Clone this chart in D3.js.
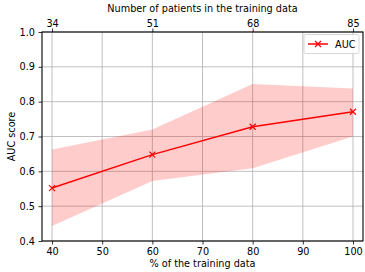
<!DOCTYPE html>
<html><head><meta charset="utf-8">
<script src="https://cdn.jsdelivr.net/npm/d3@7"></script>
<style>body{margin:0;background:#fff}svg{display:block}text{font-family:"DejaVu Sans",sans-serif;fill:#000}</style>
</head><body><svg id="c" width="365" height="272"></svg>
<script>
const pct = [40, 60, 80, 100];
const auc = [0.552, 0.648, 0.728, 0.771];
const lower = [0.443, 0.572, 0.609, 0.700];
const upper = [0.663, 0.720, 0.851, 0.838];
const xTicks = [40, 50, 60, 70, 80, 90, 100];
const yTicks = [0.4, 0.5, 0.6, 0.7, 0.8, 0.9, 1.0];
const patients = ["34", "51", "68", "85"];
const seriesName = "AUC";

const svg = d3.select("#c");
const L = 42, R = 363, T = 32, B = 241;
const x = d3.scaleLinear().domain([38, 102]).range([L, R]);
const y = d3.scaleLinear().domain([0.4, 1.0]).range([B, T]);
const fs = 9.7;

// grid
const g = svg.append("g");
g.selectAll(".gx").data(xTicks).join("line")
  .attr("x1", d => x(d)).attr("x2", d => x(d)).attr("y1", T).attr("y2", B)
  .attr("stroke", "#b0b0b0").attr("stroke-width", 0.8);
g.selectAll(".gy").data(yTicks).join("line")
  .attr("x1", L).attr("x2", R).attr("y1", d => y(d)).attr("y2", d => y(d))
  .attr("stroke", "#b0b0b0").attr("stroke-width", 0.8);

// band
const data = pct.map((p, i) => ({p, a: auc[i], lo: lower[i], hi: upper[i]}));
svg.append("path").datum(data)
  .attr("d", d3.area().x(d => x(d.p)).y0(d => y(d.lo)).y1(d => y(d.hi)))
  .attr("fill", "#ff0000").attr("fill-opacity", 0.2);

// line
svg.append("path").datum(data)
  .attr("d", d3.line().x(d => x(d.p)).y(d => y(d.a)))
  .attr("fill", "none").attr("stroke", "#ff0000").attr("stroke-width", 1.5);
const ms = 3;
svg.selectAll(".mk").data(data).join("path")
  .attr("d", d => `M${x(d.p)-ms},${y(d.a)-ms}L${x(d.p)+ms},${y(d.a)+ms}M${x(d.p)-ms},${y(d.a)+ms}L${x(d.p)+ms},${y(d.a)-ms}`)
  .attr("stroke", "#ff0000").attr("stroke-width", 1.2).attr("fill", "none");

// axes
const axB = svg.append("g").attr("transform", `translate(0,${B})`)
  .call(d3.axisBottom(x).tickValues(xTicks).tickFormat(d3.format("d")).tickSizeOuter(0).tickSize(3.5).tickPadding(3.5));
const axL = svg.append("g").attr("transform", `translate(${L},0)`)
  .call(d3.axisLeft(y).tickValues(yTicks).tickFormat(d3.format(".1f")).tickSizeOuter(0).tickSize(3.5).tickPadding(3.5));
const axT = svg.append("g").attr("transform", `translate(0,${T})`)
  .call(d3.axisTop(x).tickValues(pct).tickFormat((d, i) => patients[i]).tickSizeOuter(0).tickSize(3.5).tickPadding(2));
[axB, axL, axT].forEach(a => {
  a.select(".domain").remove();
  a.selectAll("text").style("font-size", fs + "px").attr("fill", "#000").style("font-family", '"DejaVu Sans",sans-serif');
  a.selectAll("line").attr("stroke", "#000").attr("stroke-width", 0.8);
});

// frame
svg.append("rect").attr("x", L).attr("y", T).attr("width", R - L).attr("height", B - T)
  .attr("fill", "none").attr("stroke", "#000").attr("stroke-width", 1.1);

// labels
svg.append("text").attr("x", (L + R) / 2).attr("y", 266.5).attr("text-anchor", "middle")
  .style("font-size", fs + "px").text("% of the training data");
svg.append("text").attr("x", (L + R) / 2).attr("y", 11.5).attr("text-anchor", "middle")
  .style("font-size", fs + "px").text("Number of patients in the training data");
svg.append("text").attr("transform", `translate(14.5,${(T + B) / 2}) rotate(-90)`).attr("text-anchor", "middle")
  .style("font-size", fs + "px").text("AUC score");

// legend
const lg = svg.append("g");
lg.append("rect").attr("x", 304).attr("y", 34.5).attr("width", 55).attr("height", 19).attr("rx", 2)
  .attr("fill", "#fff").attr("fill-opacity", 0.8).attr("stroke", "#cccccc").attr("stroke-width", 0.8);
lg.append("line").attr("x1", 308).attr("x2", 328).attr("y1", 44).attr("y2", 44)
  .attr("stroke", "#ff0000").attr("stroke-width", 1.5);
lg.append("path").attr("d", `M${318-ms},${44-ms}L${318+ms},${44+ms}M${318-ms},${44+ms}L${318+ms},${44-ms}`)
  .attr("stroke", "#ff0000").attr("stroke-width", 1.2);
lg.append("text").attr("x", 335).attr("y", 47.5).style("font-size", fs + "px").text(seriesName);
</script></body></html>
